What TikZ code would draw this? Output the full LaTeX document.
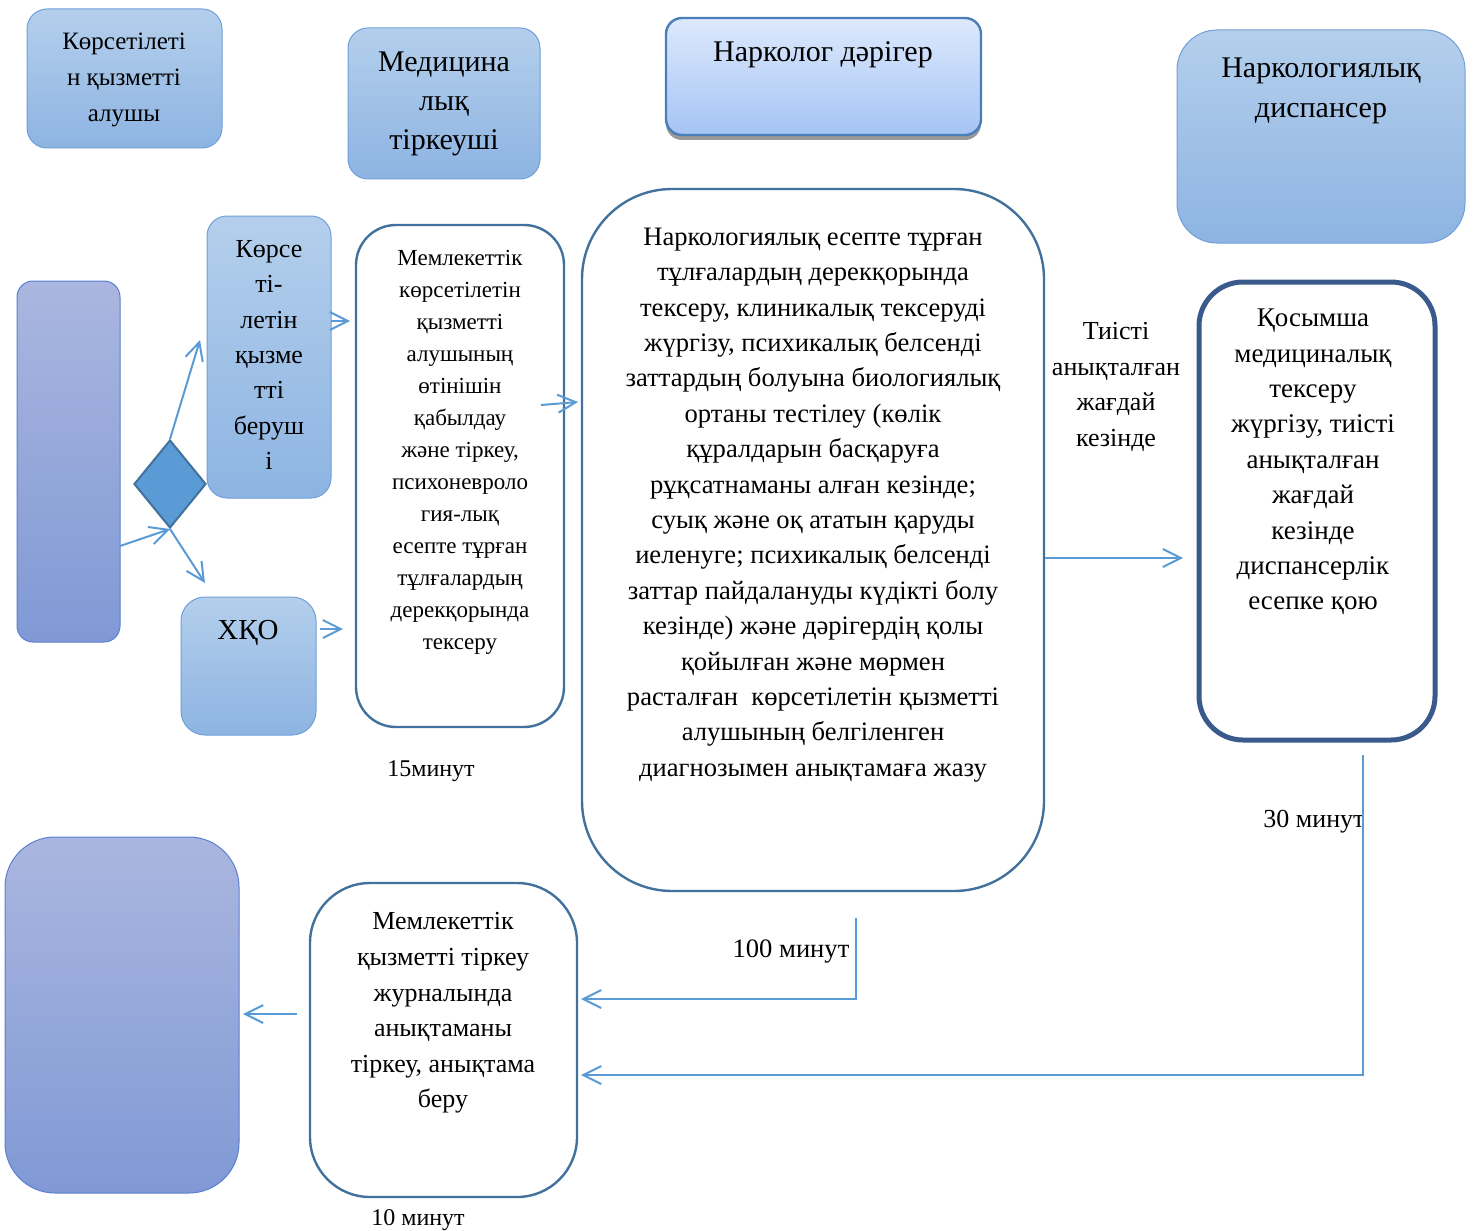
\documentclass[tikz,border=0pt]{standalone}
\usepackage{fontspec}
\setmainfont{Liberation Serif}
\usetikzlibrary{arrows.meta,fit,positioning}
\usetikzlibrary{shapes.geometric}
\usetikzlibrary{shadows}

\definecolor{flowblue}{RGB}{91,155,213}
\definecolor{edgeblue}{RGB}{65,113,156}
\definecolor{darkedge}{RGB}{58,90,140}
\definecolor{hdrtop}{RGB}{180,207,236}
\definecolor{hdrbot}{RGB}{141,180,226}
\definecolor{hdredge}{RGB}{111,160,216}
\definecolor{doctop}{RGB}{221,233,252}
\definecolor{docbot}{RGB}{165,196,245}
\definecolor{docedge}{RGB}{74,126,187}
\definecolor{clitop}{RGB}{170,182,223}
\definecolor{clibot}{RGB}{128,153,213}
\definecolor{cliedge}{RGB}{90,128,207}

\begin{document}
\begin{tikzpicture}[
		x=0.5pt, y=-0.5pt,
		header/.style={draw=hdredge, line width=0.5pt, top color=hdrtop, bottom color=hdrbot, rounded corners=10pt, inner sep=0pt},
		client/.style={draw=cliedge, line width=0.5pt, top color=clitop, bottom color=clibot, inner sep=0pt},
		stepbox/.style={draw=edgeblue, line width=1.2pt, fill=white, inner sep=0pt},
		txt/.style={align=center, inner sep=0pt},
		flow/.style={draw=flowblue, line width=1pt, -{Straight Barb[length=9pt, width=9pt]}},
	]
		\useasboundingbox (0,0) rectangle (1475,1230);

		% headers
		\node[header, fit={(27,9) (222,148)}] (recvHdr) {};
		\node[txt, font=\fontsize{12.5}{18}\selectfont] at (124,80) {Көрсетілеті\\н қызметті\\алушы};
		\node[header, fit={(348,28) (540,179)}] (regHdr) {};
		\node[txt, font=\fontsize{15}{19.5}\selectfont] at (444,104) {Медицина\\лық\\тіркеуші};
		\node[draw=docedge, line width=1.2pt, top color=doctop, bottom color=docbot, rounded corners=8pt, inner sep=0pt,
			drop shadow={shadow xshift=0pt, shadow yshift=-2.5pt, fill=gray!80, opacity=1},
			fit={(666,18) (981,135)}] (docHdr) {};
		\node[txt, font=\fontsize{15}{19.5}\selectfont] at (823,55) {Нарколог дәрігер};
		\node[header, rounded corners=20pt, fit={(1177,30) (1465,243)}] (dispHdr) {};
		\node[txt, font=\fontsize{15}{20}\selectfont] at (1321,91) {Наркологиялық\\диспансер};

		% left part
		\node[client, rounded corners=8pt, fit={(17,281) (120,642)}] (client) {};
		\node[diamond, draw=edgeblue, fill=flowblue, line width=1pt, minimum width=36pt, minimum height=44pt, inner sep=0pt] (choice) at (170,484) {};
		\node[header, fit={(207,216) (331,498)}] (provider) {};
		\node[txt, font=\fontsize{13}{17.65}\selectfont] at (269,355) {Көрсе\\ті-\\летін\\қызме\\тті\\беруш\\і};
		\node[header, rounded corners=12pt, fit={(181,597) (316,735)}] (hqo) {};
		\node[txt, font=\fontsize{14.5}{17}\selectfont] at (248,633) {ХҚО};

		% steps
		\node[stepbox, rounded corners=20pt, fit={(356,225) (564,727)}] (appl) {};
		\node[txt, font=\fontsize{11.5}{16}\selectfont] at (460,452) {Мемлекеттік\\көрсетілетін\\қызметті\\алушының\\өтінішін\\қабылдау\\және тіркеу,\\психоневроло\\гия-лық\\есепте тұрған\\тұлғалардың\\дерекқорында\\тексеру};
		\node[stepbox, rounded corners=45pt, fit={(582,189) (1044,891)}] (main) {};
		\node[txt, font=\fontsize{13.3}{17.7}\selectfont] at (813,505) {Наркологиялық есепте тұрған\\тұлғалардың дерекқорында\\тексеру, клиникалық тексеруді\\жүргізу, психикалық белсенді\\заттардың болуына биологиялық\\ортаны тестілеу (көлік\\құралдарын басқаруға\\рұқсатнаманы алған кезінде;\\суық және оқ ататын қаруды\\иеленуге; психикалық белсенді\\заттар пайдалануды күдікті болу\\кезінде) және дәрігердің қолы\\қойылған және мөрмен\\расталған\ \ көрсетілетін қызметті\\алушының белгіленген\\диагнозымен анықтамаға жазу};
		\node[stepbox, draw=darkedge, line width=2.5pt, rounded corners=22pt, fit={(1199,282) (1435,740)}] (extra) {};
		\node[txt, font=\fontsize{13.5}{17.7}\selectfont] at (1313,462) {Қосымша\\медициналық\\тексеру\\жүргізу, тиісті\\анықталған\\жағдай\\кезінде\\диспансерлік\\есепке қою};
		\node[txt, font=\fontsize{13}{17.85}\selectfont] (cond) at (1116,387) {Тиісті\\анықталған\\жағдай\\кезінде};

		% bottom
		\node[client, rounded corners=25pt, fit={(5,837) (239,1193)}] (result) {};
		\node[stepbox, rounded corners=30pt, fit={(310,883) (577,1197)}] (regist) {};
		\node[txt, font=\fontsize{13}{17.8}\selectfont] at (443,1013) {Мемлекеттік\\қызметті тіркеу\\журналында\\анықтаманы\\тіркеу, анықтама\\беру};

		% times
		\node[txt, font=\fontsize{12}{14}\selectfont] (t15) at (431,771) {15минут};
		\node[txt, font=\fontsize{13}{14}\selectfont] (t30) at (1314,822) {30 минут};
		\node[txt, font=\fontsize{13.3}{14}\selectfont] (t100) at (791,952) {100 минут};
		\node[txt, font=\fontsize{12}{14}\selectfont] (t10) at (418,1220) {10 минут};

		% connector ends
		\coordinate (cliOut) at (120,546);
		\coordinate (provIn) at (200,340);
		\coordinate (hqoIn) at (205,583);
		\coordinate (provOut) at (331,321);
		\coordinate (applIn) at (350,321);
		\coordinate (hqoOut) at (320,629);
		\coordinate (applIn2) at (343,629);
		\coordinate (applOut) at (541,405);
		\coordinate (mainIn) at (578,402);
		\coordinate (extraIn) at (1183,558);
		\coordinate (mainDown) at (856,918);
		\coordinate (registIn) at (581,999);
		\coordinate (extraDown) at (1363,755);
		\coordinate (registIn2) at (581,1075);
		\coordinate (registOut) at (297,1014);
		\coordinate (resultIn) at (243,1014);

		\draw[flow] (cliOut) -- (choice.south);
		\draw[flow] (choice.north) -- (provIn);
		\draw[flow] (choice.south) -- (hqoIn);
		\draw[flow] (provOut) -- (applIn);
		\draw[flow] (hqoOut) -- (applIn2);
		\draw[flow] (applOut) -- (mainIn);
		\draw[flow] (main.east |- extraIn) -- (extraIn);
		\draw[flow] (mainDown) |- (registIn);
		\draw[flow] (extraDown) |- (registIn2);
		\draw[flow] (registOut) -- (resultIn);
	\end{tikzpicture}
\end{document}
